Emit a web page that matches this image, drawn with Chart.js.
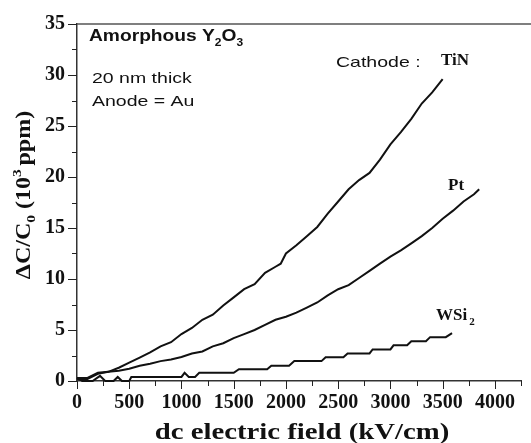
<!DOCTYPE html>
<html><head><meta charset="utf-8">
<script src="https://cdn.jsdelivr.net/npm/chart.js@4/dist/chart.umd.min.js"></script>
<style>html,body{margin:0;padding:0;background:#fff}#wrap{width:531px;height:443px}</style>
</head><body><div id="wrap"><canvas id="c" width="531" height="443"></canvas></div>
<script>
// ---- data (field in kV/cm, ΔC/C0 in 10^3 ppm) ----
const tinField = [0,100,200,300,400,500,600,700,800,900,1000,1100,1200,1300,1400,1500,1600,1700,1800,1900,1950,2000,2100,2200,2300,2400,2500,2600,2700,2800,2900,3000,3100,3200,3300,3400,3500];
const tinValues = [0.3,0.3,0.8,0.9,1.3,1.8,2.3,2.8,3.4,3.8,4.6,5.2,6.0,6.5,7.4,8.2,9.0,9.5,10.6,11.2,11.5,12.5,13.3,14.2,15.1,16.4,17.6,18.8,19.7,20.4,21.7,23.2,24.4,25.7,27.2,28.3,29.6];
const ptField = [0,100,200,300,400,500,600,700,800,900,1000,1100,1200,1300,1400,1500,1600,1700,1800,1900,2000,2100,2200,2300,2400,2500,2600,2700,2800,2900,3000,3100,3200,3300,3400,3500,3600,3700,3800,3850];
const ptValues = [0.2,0.2,0.7,0.9,1.0,1.2,1.5,1.7,1.95,2.1,2.35,2.7,2.9,3.4,3.7,4.2,4.6,5.0,5.5,6.0,6.3,6.7,7.2,7.7,8.4,9.0,9.4,10.1,10.8,11.5,12.2,12.8,13.5,14.2,15.0,15.9,16.7,17.6,18.3,18.8];
const wsiField = [0,50,100,150,220,270,350,390,430,500,520,1000,1030,1070,1130,1170,1500,1550,1820,1860,2030,2080,2340,2380,2550,2590,2800,2830,3000,3030,3160,3200,3340,3380,3530,3590];
const wsiValues = [0.3,0.0,0.0,0.0,0.5,0.0,0.0,0.4,0.0,0.0,0.4,0.4,0.8,0.4,0.4,0.8,0.8,1.15,1.15,1.5,1.5,1.95,1.95,2.33,2.33,2.7,2.7,3.1,3.1,3.5,3.5,3.9,3.9,4.3,4.3,4.7];
const xTickStep = 250, xMajor = 500, xMin = 0, xMax = 4250;
const yTickStep = 2.5, yMajor = 5, yMin = 0, yMax = 35;

const toPts = (xs, ys) => xs.map((x, i) => ({x, y: ys[i]}));
const serif = '"Liberation Serif", "Times New Roman", serif';
const sans = '"Liberation Sans", Arial, sans-serif';

const deco = {
  id: 'deco',
  afterDraw(chart) {
    const ctx = chart.ctx, xs = chart.scales.x, ys = chart.scales.y, ca = chart.chartArea;
    ctx.save();
    // top frame line
    ctx.strokeStyle = '#555'; ctx.lineWidth = 1.5;
    ctx.beginPath(); ctx.moveTo(ca.left, ca.top); ctx.lineTo(531, ca.top); ctx.stroke();
    // ticks (outward, major + minor)
    ctx.strokeStyle = '#222'; ctx.lineWidth = 1;
    for (let v = xMin; v <= xMax + 1e-6; v += xTickStep) {
      const px = Math.round(xs.getPixelForValue(v)) + 0.5;
      const len = (Math.abs(v % xMajor) < 1e-6) ? 8 : 5;
      ctx.beginPath(); ctx.moveTo(px, ca.bottom); ctx.lineTo(px, ca.bottom + len); ctx.stroke();
    }
    for (let v = yMin; v <= yMax + 1e-6; v += yTickStep) {
      const py = Math.round(ys.getPixelForValue(v)) + 0.5;
      const len = (Math.abs(v % yMajor) < 1e-6) ? 9 : 5;
      ctx.beginPath(); ctx.moveTo(ca.left, py); ctx.lineTo(ca.left - len, py); ctx.stroke();
    }
    ctx.fillStyle = '#111';
    ctx.textBaseline = 'alphabetic'; ctx.textAlign = 'left';
    // draw runs of text (with sub/superscripts), stretched horizontally by sx
    function measure(parts) {
      let w = 0;
      for (const p of parts) { ctx.font = p.font; w += ctx.measureText(p.t).width + (p.gap || 0); }
      return w;
    }
    function runs(parts, x, y, sx, align) {
      ctx.save();
      ctx.translate(x, y);
      ctx.scale(sx || 1, 1);
      let cx = align === 'center' ? -measure(parts) / 2 : 0;
      for (const p of parts) {
        ctx.font = p.font;
        ctx.fillText(p.t, cx, p.dy || 0);
        cx += ctx.measureText(p.t).width + (p.gap || 0);
      }
      ctx.restore();
    }
    runs([{t:'Amorphous Y', font:'bold 16px ' + sans},{t:'2', font:'bold 10px ' + sans, dy:5},{t:'O', font:'bold 16px ' + sans},{t:'3', font:'bold 10px ' + sans, dy:5}], 89, 41, 1.2);
    runs([{t:'20 nm thick', font:'15px ' + sans}], 92, 83, 1.3);
    runs([{t:'Anode = Au', font:'15px ' + sans}], 92, 106, 1.3);
    runs([{t:'Cathode :', font:'15px ' + sans}], 336, 67, 1.3);
    runs([{t:'TiN', font:'bold 17px ' + serif}], 441, 65, 1.0);
    runs([{t:'Pt', font:'bold 17px ' + serif}], 448, 190, 1.0);
    runs([{t:'WSi', font:'bold 17px ' + serif, gap:2},{t:'2', font:'bold 11px ' + serif, dy:5}], 436, 320, 1.0);
    // y axis title rotated
    ctx.save();
    ctx.translate(30, 195);
    ctx.rotate(-Math.PI / 2);
    runs([
      {t:'ΔC/C', font:'bold 20px ' + serif},
      {t:'0', font:'bold 13px ' + serif, dy:5},
      {t:' (10', font:'bold 20px ' + serif},
      {t:'3', font:'bold 13px ' + serif, dy:-9, gap:3},
      {t:'ppm)', font:'bold 20px ' + serif}
    ], 0, 0, 1.2, 'center');
    ctx.restore();
    // x axis title
    runs([{t:'dc electric field (kV/cm)', font:'bold 23px ' + serif}], 302, 439, 1.25, 'center');
    ctx.restore();
  }
};

const lineDs = (label, xs, ys) => ({
  label, data: toPts(xs, ys), borderColor: '#111', borderWidth: 2,
  pointRadius: 0, tension: 0, fill: false, clip: false
});

new Chart(document.getElementById('c'), {
  type: 'line',
  data: { datasets: [lineDs('TiN', tinField, tinValues), lineDs('Pt', ptField, ptValues), lineDs('WSi2', wsiField, wsiValues)] },
  options: {
    responsive: false, animation: false, devicePixelRatio: 1,
    layout: { padding: { top: 16, right: 0, left: 0, bottom: 0 } },
    plugins: { legend: { display: false }, tooltip: { enabled: false } },
    scales: {
      x: {
        type: 'linear', min: xMin, max: xMax,
        afterFit(s) { s.height = 62; },
        grid: { display: false, drawTicks: false },
        border: { display: true, color: '#333', width: 1.5 },
        ticks: { stepSize: xTickStep, padding: 10, color: '#111', maxRotation: 0, autoSkip: false,
          font: { family: serif, weight: 'bold', size: 20 },
          callback: v => (Math.abs(v % xMajor) < 1e-6 && v <= 4000) ? String(v) : '' }
      },
      y: {
        type: 'linear', min: yMin, max: yMax,
        afterFit(s) { s.width = 77; },
        grid: { display: false, drawTicks: false },
        border: { display: true, color: '#333', width: 1.5 },
        ticks: { stepSize: yTickStep, padding: 12, color: '#111', autoSkip: false,
          font: { family: serif, weight: 'bold', size: 20 },
          callback: v => (Math.abs(v % yMajor) < 1e-6) ? String(v) : '' }
      }
    }
  },
  plugins: [deco]
});
</script>
</body></html>
